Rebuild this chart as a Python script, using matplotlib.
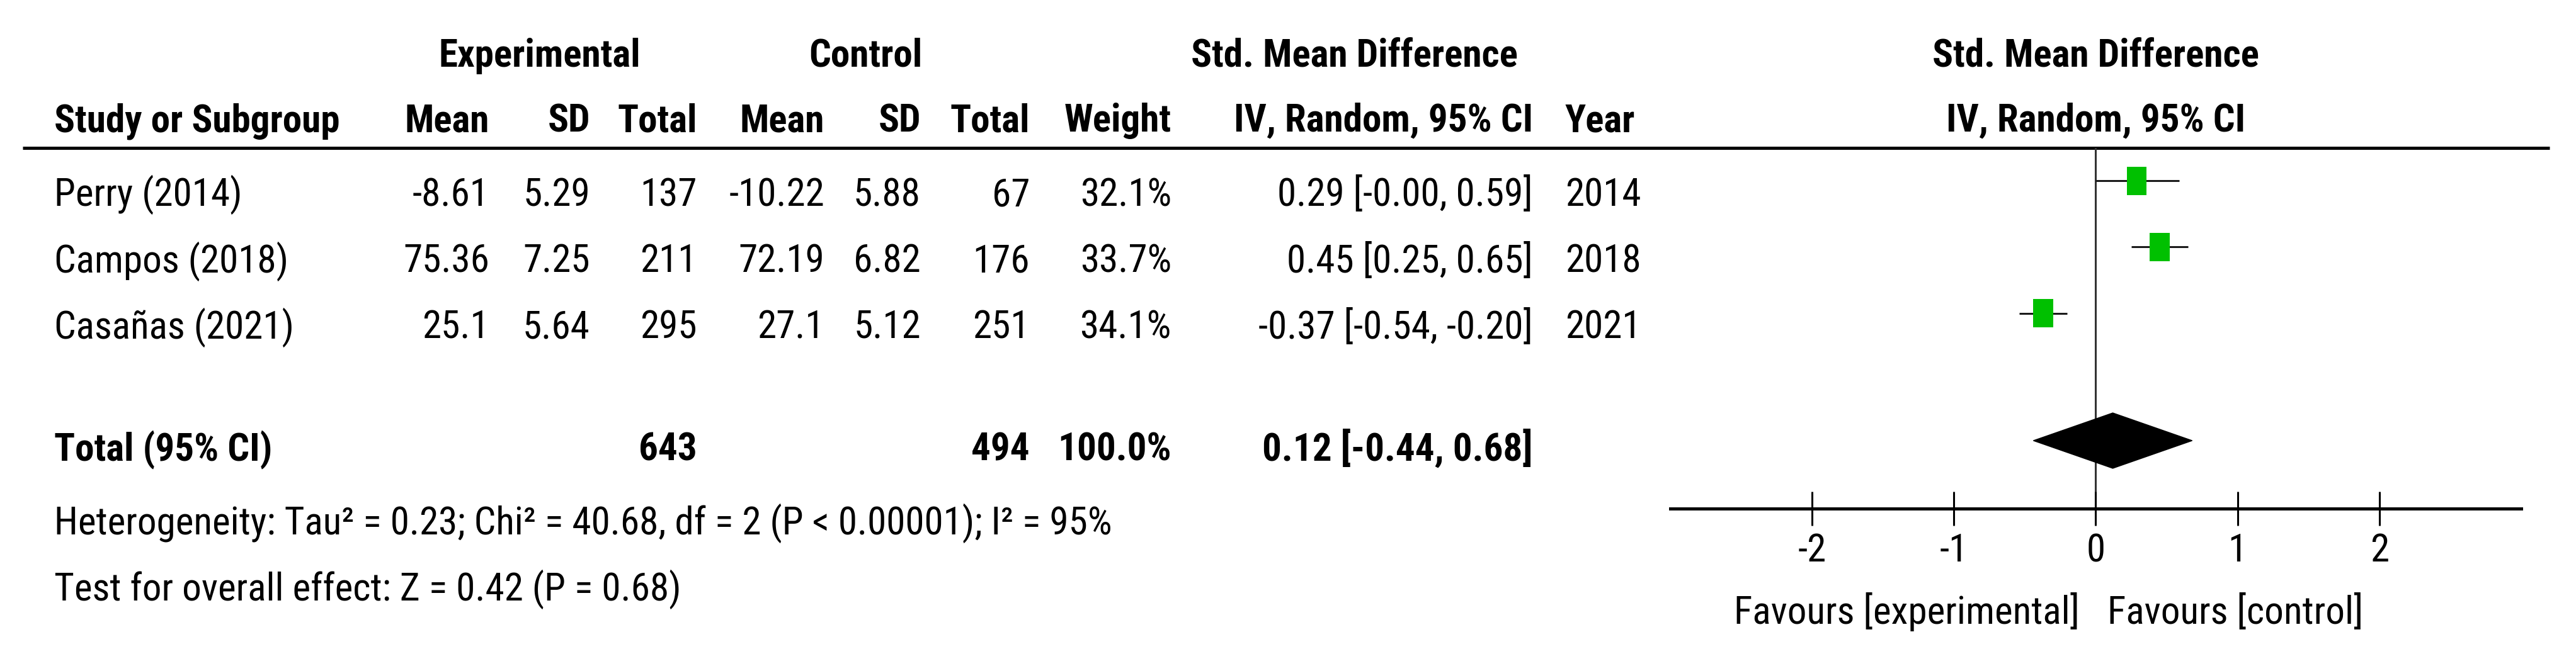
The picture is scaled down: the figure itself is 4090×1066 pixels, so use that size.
import matplotlib
matplotlib.use("Agg")
import matplotlib.pyplot as plt
from matplotlib import font_manager
from matplotlib.patches import Rectangle

# ---- data ----
studies   = ["Perry (2014)", "Campos (2018)", "Casañas (2021)"]
exp_mean  = [-8.61, 75.36, 25.1]
exp_sd    = [5.29, 7.25, 5.64]
exp_n     = [137, 211, 295]
ctl_mean  = [-10.22, 72.19, 27.1]
ctl_sd    = [5.88, 6.82, 5.12]
ctl_n     = [67, 176, 251]
weights   = [32.1, 33.7, 34.1]
smd       = [0.29, 0.45, -0.37]
ci_lo     = [-0.0, 0.25, -0.54]
ci_hi     = [0.59, 0.65, -0.20]
years     = [2014, 2018, 2021]

pooled, pooled_lo, pooled_hi = 0.12, -0.44, 0.68
total_weight = 100.0
het_text  = "Heterogeneity: Tau² = 0.23; Chi² = 40.68, df = 2 (P < 0.00001); I² = 95%"
test_text = "Test for overall effect: Z = 0.42 (P = 0.68)"
xticks    = [-2, -1, 0, 1, 2]
xlim      = (-3, 3)

# ---- font: narrow sans if we have one ----
names = {f.name for f in font_manager.fontManager.ttflist}
FONT, FS = "DejaVu Sans", 38
for cand, size in (("Liberation Sans Narrow", 46.5), ("Arial Narrow", 46.5),
                   ("Roboto Condensed", 44), ("Liberation Sans", 38)):
    if cand in names:
        FONT, FS = cand, size
        break
plt.rcParams["font.family"] = [FONT, "DejaVu Sans"]

W, H = 4091, 1066
fig = plt.figure(figsize=(W / 100, H / 100), dpi=100)

# table layer in pixel coordinates
ax = fig.add_axes([0, 0, 1, 1])
ax.set_xlim(0, W)
ax.set_ylim(H, 0)
ax.axis("off")

def t(x, y, s, ha="right", bold=False):
    ax.text(x, y, s, ha=ha, va="baseline", fontsize=FS,
            fontweight="bold" if bold else "normal", color="black")

# headers
t(857, 106, "Experimental", ha="center", bold=True)
t(1374, 106, "Control", ha="center", bold=True)
t(2150, 106, "Std. Mean Difference", ha="center", bold=True)
t(86, 209, "Study or Subgroup", ha="left", bold=True)
for x, s in ((777, "Mean"), (937, "SD"), (1107, "Total"),
             (1309, "Mean"), (1462, "SD"), (1635, "Total"),
             (1860, "Weight"), (2434, "IV, Random, 95% CI")):
    t(x, 209, s, bold=True)
t(2485, 209, "Year", ha="left", bold=True)
ax.plot([36, 4048], [235, 235], color="black", lw=3.6, solid_capstyle="butt")

# study rows
row_base = [327 + i * 105.5 for i in range(len(studies))]
for i, yb in enumerate(row_base):
    t(86, yb, studies[i], ha="left")
    t(777, yb, f"{exp_mean[i]:g}")
    t(937, yb, f"{exp_sd[i]:.2f}")
    t(1107, yb, str(exp_n[i]))
    t(1309, yb, f"{ctl_mean[i]:g}")
    t(1462, yb, f"{ctl_sd[i]:.2f}")
    t(1635, yb, str(ctl_n[i]))
    t(1860, yb, f"{weights[i]:.1f}%")
    t(2434, yb, f"{smd[i]:.2f} [{ci_lo[i]:.2f}, {ci_hi[i]:.2f}]")
    t(2485, yb, str(years[i]), ha="left")

# total row
tot_base = 732
t(86, tot_base, "Total (95% CI)", ha="left", bold=True)
t(1107, tot_base, str(sum(exp_n)), bold=True)
t(1635, tot_base, str(sum(ctl_n)), bold=True)
t(1860, tot_base, f"{total_weight:.1f}%", bold=True)
t(2434, tot_base, f"{pooled:.2f} [{pooled_lo:.2f}, {pooled_hi:.2f}]", bold=True)
t(86, 849, het_text, ha="left")
t(86, 954, test_text, ha="left")

# ---- forest panel: x in effect units, y in pixel rows ----
fx0, fx1, fy0, fy1 = 2652, 4003, 235, 808
axf = fig.add_axes([fx0 / W, (H - fy1) / H, (fx1 - fx0) / W, (fy1 - fy0) / H])
axf.set_xlim(*xlim)
axf.set_ylim(fy1, fy0)
axf.patch.set_visible(False)
for side in ("top", "left", "right"):
    axf.spines[side].set_visible(False)
axf.spines["bottom"].set_linewidth(3.6)
axf.set_yticks([])
axf.set_xticks(xticks)
axf.set_xticklabels([str(v) for v in xticks], fontsize=FS)
axf.tick_params(axis="x", direction="inout", length=39, width=2.2, pad=8)

px = (xlim[1] - xlim[0]) / (fx1 - fx0)   # data units per pixel
axf.axvline(0, color="#333333", lw=2.2, zorder=1)

for i, yb in enumerate(row_base):
    yc = yb - 40
    axf.hlines(yc, ci_lo[i], ci_hi[i], color="#1a1a1a", lw=2.2, zorder=2)
    w = 31 * (weights[i] / 32.1) ** 0.5 * px
    axf.add_patch(Rectangle((smd[i] - w / 2, yc - 22.5), w, 45,
                            facecolor="#00c000", edgecolor="none", zorder=3))

yd = tot_base - 32
axf.fill([pooled_lo, pooled, pooled_hi, pooled], [yd, yd - 44, yd, yd + 44],
         color="black", zorder=3)

axf.text(0, 106, "Std. Mean Difference", ha="center", va="baseline",
         fontsize=FS, fontweight="bold", clip_on=False)
axf.text(0, 209, "IV, Random, 95% CI", ha="center", va="baseline",
         fontsize=FS, fontweight="bold", clip_on=False)
axf.text(-26 * px, 991, "Favours [experimental]", ha="right", va="baseline",
         fontsize=FS, clip_on=False)
axf.text(19 * px, 991, "Favours [control]", ha="left", va="baseline",
         fontsize=FS, clip_on=False)

fig.savefig("out.png", dpi=100, facecolor="white")
